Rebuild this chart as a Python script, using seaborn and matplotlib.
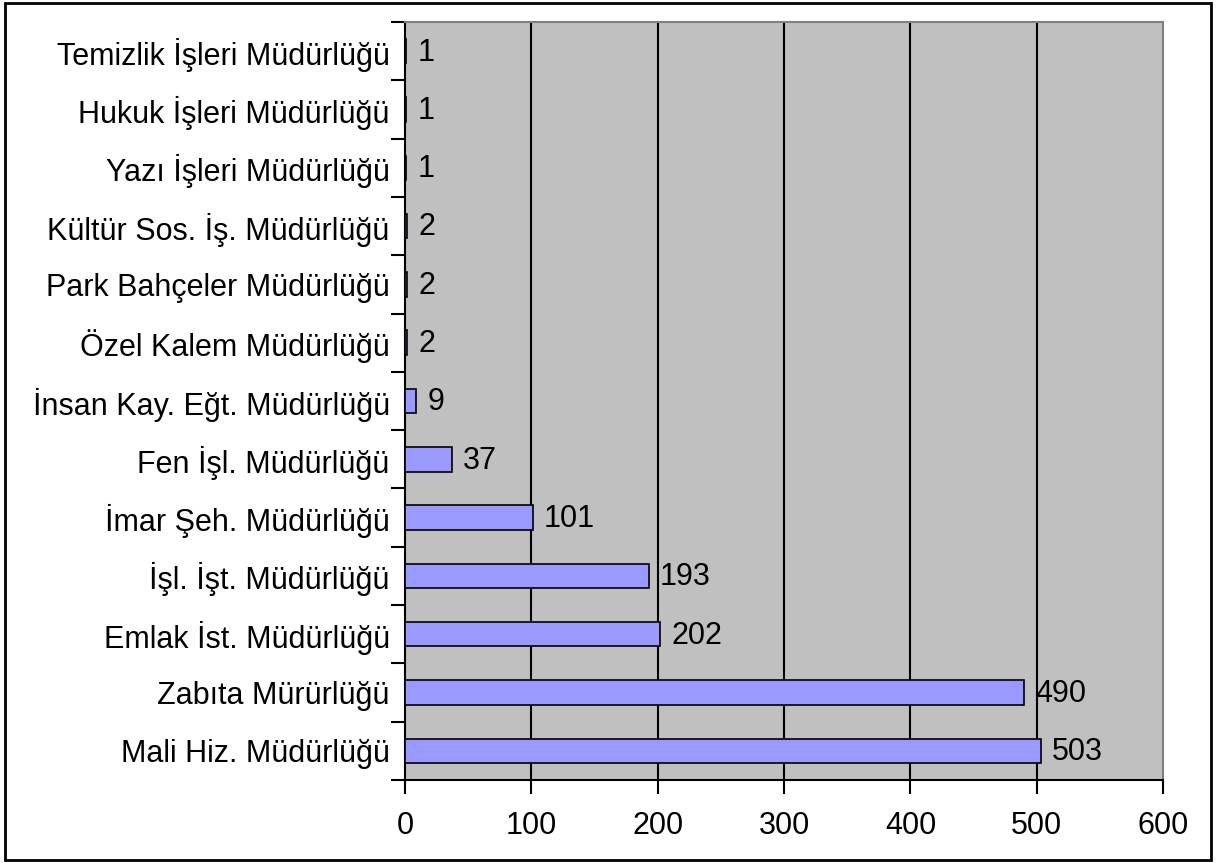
import matplotlib
matplotlib.use("Agg")
import matplotlib.pyplot as plt
import seaborn as sns
import pandas as pd
import numpy as np
from matplotlib.patches import Rectangle

categories = ["Temizlik İşleri Müdürlüğü", "Hukuk İşleri Müdürlüğü", "Yazı İşleri Müdürlüğü",
              "Kültür Sos. İş. Müdürlüğü", "Park Bahçeler Müdürlüğü", "Özel Kalem Müdürlüğü",
              "İnsan Kay. Eğt. Müdürlüğü", "Fen İşl. Müdürlüğü", "İmar Şeh. Müdürlüğü",
              "İşl. İşt. Müdürlüğü", "Emlak İst. Müdürlüğü", "Zabıta Mürürlüğü", "Mali Hiz. Müdürlüğü"]
values = [1, 1, 1, 2, 2, 2, 9, 37, 101, 193, 202, 490, 503]
xticks = [0, 100, 200, 300, 400, 500, 600]

sns.set_style("white")
plt.rcParams['font.family'] = ['Liberation Sans', 'DejaVu Sans']
plt.rcParams['text.color'] = 'black'
plt.rcParams['xtick.color'] = 'black'
plt.rcParams['ytick.color'] = 'black'

FS = 22
df = pd.DataFrame({"cat": categories, "val": values})
fig = plt.figure(figsize=(12.27, 8.63), dpi=100)
ax = fig.add_axes([0.330, 0.0962, 0.618, 0.8783])
ax.set_facecolor("#C0C0C0")

sns.barplot(data=df, x="val", y="cat", order=categories, orient="h", color="#9999FF",
            saturation=1, width=0.42, edgecolor="black", linewidth=1.2, ax=ax, zorder=3)

ax.set_xlim(0, 600)
ax.set_ylim(len(categories) - 0.5, -0.5)
ax.set_xticks(xticks)
ax.set_xticklabels([str(t) for t in xticks], fontsize=FS, color="black")
for lab in ax.get_yticklabels():
    lab.set_fontsize(FS)
    lab.set_color("black")
for t in xticks[1:-1]:
    ax.axvline(t, color="black", lw=1.5, zorder=1)
ax.set_xlabel("")
ax.set_ylabel("")
ax.tick_params(axis="y", which="major", left=True, length=0, pad=11)
ax.set_yticks(np.arange(-0.5, len(categories) + 0.5, 1), minor=True)
ax.tick_params(axis="y", which="minor", left=True, length=10, width=1.5, color="black", direction="out")
ax.tick_params(axis="x", which="major", bottom=True, length=10, width=1.5, color="black", direction="out", pad=12)

for s in ["left", "bottom"]:
    ax.spines[s].set_color("black")
    ax.spines[s].set_linewidth(1.5)
for s in ["right", "top"]:
    ax.spines[s].set_color("#808080")
    ax.spines[s].set_linewidth(1.5)

for i, v in enumerate(values):
    ax.annotate(str(v), xy=(v, i), xytext=(8, -1), textcoords="offset points",
                va="center", ha="left", fontsize=FS, color="black", zorder=4)

fig.patches.append(Rectangle((0.004, 0.003), 0.983, 0.994, transform=fig.transFigure,
                             fill=False, edgecolor="black", linewidth=2))

fig.savefig("out.png", dpi=100)
